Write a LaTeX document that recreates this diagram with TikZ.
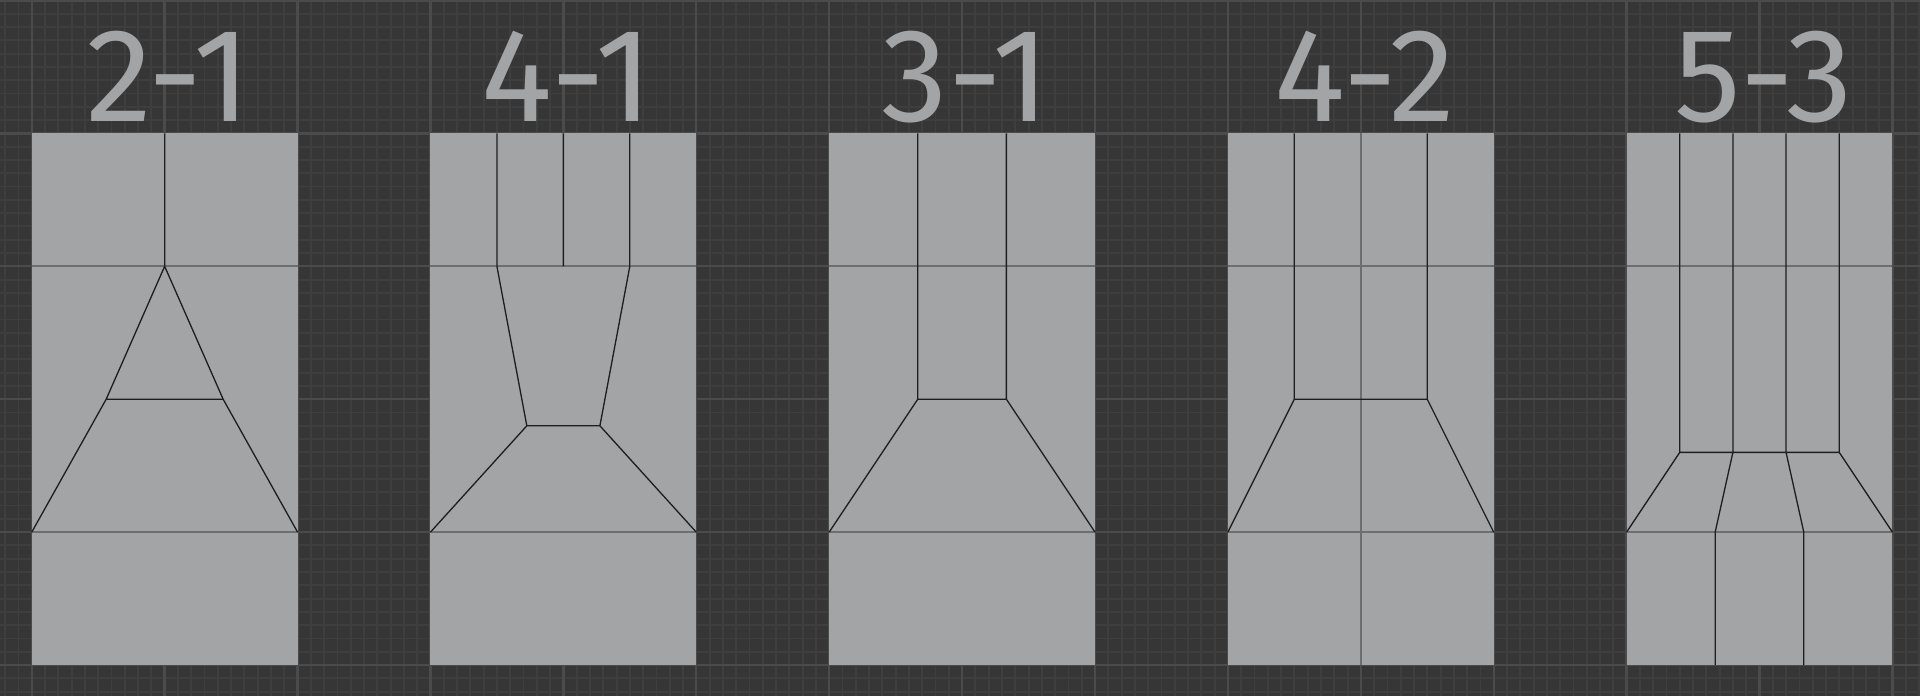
\documentclass[tikz,border=0pt]{standalone}
\usepackage{fontspec}
\setmainfont{Fira Sans}
\usetikzlibrary{positioning}
\definecolor{boardbg}{HTML}{363636}
\definecolor{gridminor}{HTML}{3E3E3E}
\definecolor{gridmajor}{HTML}{4B4B4B}
\definecolor{facegray}{HTML}{A3A4A6}
\definecolor{seamgray}{HTML}{6E6E70}
\definecolor{wireblack}{HTML}{1E1E1E}

\begin{document}
\begin{tikzpicture}[
    face/.style = {fill=facegray},
    wire/.style = {draw=wireblack, line width=0.28pt},
    seam/.style = {draw=seamgray, line width=0.5pt},
    tag/.style  = {text=facegray, anchor=base, inner sep=0pt,
                   font=\fontsize{28.5}{30}\selectfont}]
    \useasboundingbox (-0.239,-0.226) rectangle (14.208,5.004);
    % board
    \fill[boardbg] (-0.4,-0.4) rectangle (14.4,5.2);
    \draw[gridminor, line width=0.4pt, step=0.1] (-0.3,-0.3) grid (14.3,5.1);
    \draw[gridmajor, line width=0.5pt, step=1] (-0.3,-0.3) grid (14.3,5.1);

    % 2-1
    \begin{scope}
        \fill[face] (0,0) rectangle (2,4);
        \draw[seam] (0,3) -- (2,3) (0,1) -- (2,1);
        \draw[wire] (1,4) -- (1,3) -- (0.56,2) -- (0,1)
                    (1,3) -- (1.44,2) -- (2,1)
                    (0.56,2) -- (1.44,2);
        \node[tag] (t21) at (1.03,4.09) {2-1};
    \end{scope}

    % 4-1
    \begin{scope}[xshift=3cm]
        \fill[face] (0,0) rectangle (2,4);
        \draw[seam] (0,3) -- (2,3) (0,1) -- (2,1);
        \draw[wire] (0.5,4) -- (0.5,3) -- (0.725,1.8) -- (0,1)
                    (1.5,4) -- (1.5,3) -- (1.275,1.8) -- (2,1)
                    (1,4) -- (1,3)
                    (0.725,1.8) -- (1.275,1.8);
        \node[tag] (t41) at (1.03,4.09) {4-1};
    \end{scope}

    % 3-1
    \begin{scope}[xshift=6cm]
        \fill[face] (0,0) rectangle (2,4);
        \draw[seam] (0,3) -- (2,3) (0,1) -- (2,1);
        \draw[wire] (2/3,4) -- (2/3,2) -- (0,1)
                    (4/3,4) -- (4/3,2) -- (2,1)
                    (2/3,2) -- (4/3,2);
        \node[tag] (t31) at (1.03,4.09) {3-1};
    \end{scope}

    % 4-2
    \begin{scope}[xshift=9cm]
        \fill[face] (0,0) rectangle (2,4);
        \draw[seam] (0,3) -- (2,3) (0,1) -- (2,1) (1,4) -- (1,0);
        \draw[wire] (0.5,4) -- (0.5,2) -- (0,1)
                    (1.5,4) -- (1.5,2) -- (2,1)
                    (0.5,2) -- (1.5,2);
        \node[tag] (t42) at (1.03,4.09) {4-2};
    \end{scope}

    % 5-3
    \begin{scope}[xshift=12cm]
        \fill[face] (0,0) rectangle (2,4);
        \draw[seam] (0,3) -- (2,3) (0,1) -- (2,1);
        \draw[wire] (0.4,4) -- (0.4,1.6) -- (0,1)
                    (0.8,4) -- (0.8,1.6) -- (2/3,1) -- (2/3,0)
                    (1.2,4) -- (1.2,1.6) -- (4/3,1) -- (4/3,0)
                    (1.6,4) -- (1.6,1.6) -- (2,1)
                    (0.4,1.6) -- (1.6,1.6);
        \node[tag] (t53) at (1.03,4.09) {5-3};
    \end{scope}
\end{tikzpicture}
\end{document}
